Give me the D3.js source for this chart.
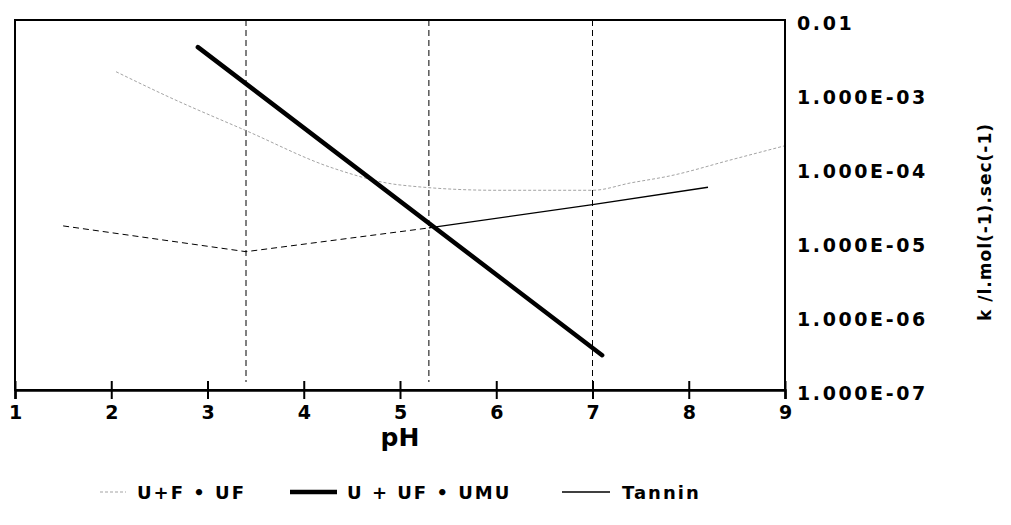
<!DOCTYPE html>
<html>
<head>
<meta charset="utf-8">
<script src="https://cdn.jsdelivr.net/npm/d3@7"></script>
<style>
  body { margin: 0; background: #fff; }
  svg text { font-family: "DejaVu Sans", sans-serif; font-weight: bold; fill: #000; }
</style>
</head>
<body>
<div id="chart"></div>
<script>
// pH ticks and k ticks (log scale)
const xTicks = [1, 2, 3, 4, 5, 6, 7, 8, 9];
const yTicks = [1e-7, 1e-6, 1e-5, 1e-4, 1e-3, 1e-2];
const yTickLabels = ['1.000E-07', '1.000E-06', '1.000E-05', '1.000E-04', '1.000E-03', '0.01'];

// vertical reference lines
const markPH = [3.4, 5.3, 7.0];

// U+F -> UF (dotted curve)
const ufPH = [2.05, 2.6, 3.4, 4.3, 5.0, 6.0, 7.0, 7.4, 7.8, 8.45, 9.0];
const ufK  = [2.0e-3, 9.1e-4, 3.2e-4, 1.0e-4, 5.9e-5, 5.0e-5, 5.0e-5, 6.3e-5, 7.8e-5, 1.3e-4, 2.0e-4];

// U + UF -> UMU (thick line)
const umuPH = [2.9, 7.1];
const umuK  = [4.3e-3, 2.95e-7];

// Tannin
const tanPH = [1.5, 3.4, 5.3, 7.0, 8.2];
const tanK  = [1.65e-5, 7.4e-6, 1.55e-5, 3.2e-5, 5.5e-5];

const legendLabels = ['U+F \u2022 UF', 'U + UF \u2022 UMU', 'Tannin'];

const width = 1011, height = 525;
const mLeft = 15, mRight = 785, mTop = 20, mBottom = 390;

const x = d3.scaleLinear().domain([1, 9]).range([mLeft, mRight]);
const y = d3.scaleLog().domain([1e-7, 1e-2]).range([mBottom, mTop]);

const svg = d3.select('#chart').append('svg')
  .attr('width', width)
  .attr('height', height);

// dashed verticals
svg.append('g').selectAll('line')
  .data(markPH)
  .join('line')
    .attr('x1', d => x(d)).attr('x2', d => x(d))
    .attr('y1', mTop).attr('y2', mBottom - 8)
    .attr('stroke', '#000')
    .attr('stroke-width', 1)
    .attr('stroke-dasharray', '6,4');

const line = d3.line().x(d => x(d[0])).y(d => y(d[1]));

// U+F -> UF
svg.append('path')
  .datum(d3.zip(ufPH, ufK))
  .attr('fill', 'none')
  .attr('stroke', '#999')
  .attr('stroke-width', 0.9)
  .attr('stroke-dasharray', '3,2')
  .attr('d', line.curve(d3.curveMonotoneX));

line.curve(d3.curveLinear);

// Tannin: dashed up to pH 5.3, solid after
const tan = d3.zip(tanPH, tanK);
svg.append('path')
  .datum(tan.filter(d => d[0] <= 5.3))
  .attr('fill', 'none')
  .attr('stroke', '#000')
  .attr('stroke-width', 1)
  .attr('stroke-dasharray', '6,4')
  .attr('d', line);
svg.append('path')
  .datum(tan.filter(d => d[0] >= 5.3))
  .attr('fill', 'none')
  .attr('stroke', '#000')
  .attr('stroke-width', 1.4)
  .attr('d', line);

// U + UF -> UMU
svg.append('path')
  .datum(d3.zip(umuPH, umuK))
  .attr('fill', 'none')
  .attr('stroke', '#000')
  .attr('stroke-width', 4.5)
  .attr('stroke-linecap', 'round')
  .attr('d', line);

// frame
svg.append('rect')
  .attr('x', mLeft).attr('y', mTop)
  .attr('width', mRight - mLeft).attr('height', mBottom - mTop)
  .attr('fill', 'none')
  .attr('stroke', '#000')
  .attr('stroke-width', 2);

// bottom axis
const axisX = svg.append('g')
  .attr('transform', `translate(0,${mBottom})`)
  .call(d3.axisBottom(x).tickValues(xTicks).tickFormat(d3.format('d')).tickSize(9))
  .call(g => g.select('.domain').attr('stroke-width', 2.5));
axisX.selectAll('.tick line').attr('y1', -9).attr('stroke-width', 2);
axisX.selectAll('.tick text')
  .attr('y', 29).attr('dy', null)
  .style('font-size', '19px')
  .style('font-family', '"DejaVu Sans", sans-serif')
  .style('font-weight', 'bold');

svg.append('text')
  .attr('x', x(5)).attr('y', 446)
  .attr('text-anchor', 'middle')
  .style('font-size', '25px')
  .text('pH');

// right axis
const axisY = svg.append('g')
  .attr('transform', `translate(${mRight},0)`)
  .call(d3.axisRight(y).tickValues(yTicks).tickFormat((d, i) => yTickLabels[i]).tickSize(0).tickPadding(12))
  .call(g => g.select('.domain').remove());
axisY.selectAll('.tick text')
  .attr('dy', '0.5em')
  .attr('letter-spacing', 2.6)
  .style('font-size', '19px')
  .style('font-family', '"DejaVu Sans", sans-serif')
  .style('font-weight', 'bold');

svg.append('text')
  .attr('transform', 'translate(991,222) rotate(-90)')
  .attr('text-anchor', 'middle')
  .attr('letter-spacing', 1)
  .style('font-size', '17px')
  .text('k  /l.mol(-1).sec(-1)');

// legend
const legendY = 492;
const legend = [
  { x1: 100, x2: 126, tx: 137, w: 0.9, dash: '3,2', color: '#999' },
  { x1: 290, x2: 337, tx: 347, w: 4.5, dash: null, color: '#000' },
  { x1: 562, x2: 610, tx: 622, w: 1.4, dash: null, color: '#000' }
];
const li = svg.append('g').selectAll('g')
  .data(legend)
  .join('g');
li.append('line')
  .attr('x1', d => d.x1).attr('x2', d => d.x2)
  .attr('y1', legendY).attr('y2', legendY)
  .attr('stroke', d => d.color)
  .attr('stroke-width', d => d.w)
  .attr('stroke-dasharray', d => d.dash);
li.append('text')
  .attr('x', d => d.tx).attr('y', legendY + 7)
  .attr('letter-spacing', 2)
  .style('font-size', '18px')
  .text((d, i) => legendLabels[i]);
</script>
</body>
</html>
